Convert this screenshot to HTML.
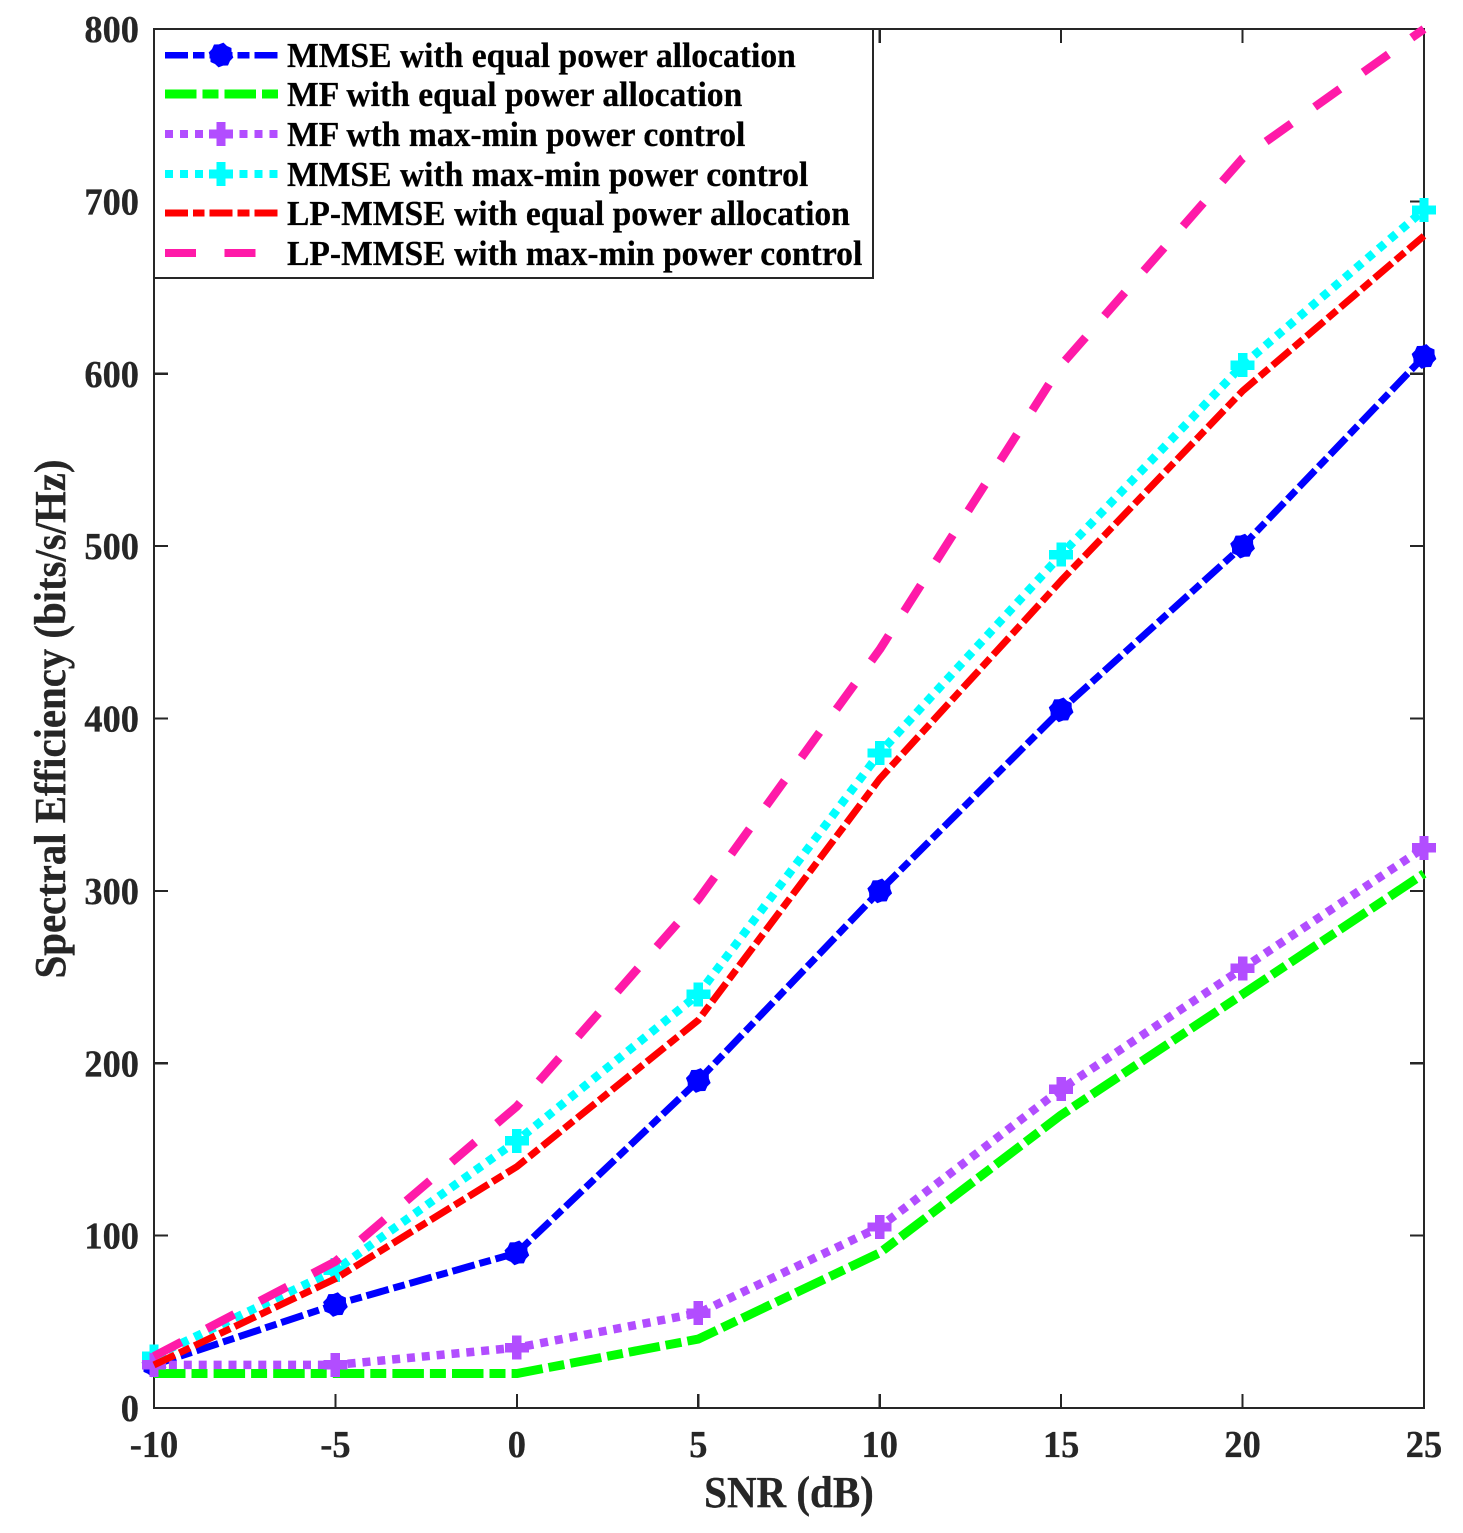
<!DOCTYPE html>
<html lang="en">
<head>
<meta charset="utf-8">
<title>Spectral Efficiency vs SNR</title>
<style>
html,body{margin:0;padding:0;background:#fff;}
svg{display:block;}
text{font-family:"Liberation Serif",serif;font-weight:bold;}
</style>
</head>
<body>
<svg id="chart" xmlns="http://www.w3.org/2000/svg" width="1463" height="1533" viewBox="0 0 1463 1533">
  <rect x="0" y="0" width="1463" height="1533" fill="#fff"/>
  <rect x="154" y="29" width="1270" height="1379" fill="none" stroke="#262626" stroke-width="2.2" shape-rendering="crispEdges"/>
  <g id="ticks"></g>
  <g id="marks-top"></g>
  <text transform="translate(789,1507) scale(1,1.08)" font-size="41" text-anchor="middle" fill="#262626" stroke="#262626" stroke-width="0.3">SNR (dB)</text>
  <text transform="translate(65,719) rotate(-90) scale(1,1.08)" font-size="40.8" text-anchor="middle" fill="#262626" stroke="#262626" stroke-width="0.3">Spectral Efficiency (bits/s/Hz)</text>
  <g id="legend">
    <rect x="154" y="29" width="719" height="249" fill="#fff" stroke="#262626" stroke-width="2.2" shape-rendering="crispEdges"/>
  </g>
</svg>
<script>
const xCategories = [-10, -5, 0, 5, 10, 15, 20, 25];
const yTickValues = [0, 100, 200, 300, 400, 500, 600, 700, 800];
const mmseEqual = [25, 60, 90, 190, 300, 405, 500, 610];
const mfEqual = [20, 20, 20, 40, 90, 170, 240, 310];
const mfMaxMin = [25, 25, 35, 55, 105, 185, 255, 325];
const mmseMaxMin = [30, 80, 155, 240, 380, 495, 605, 695];
const lpEqual = [25, 75, 140, 225, 365, 480, 590, 680];
const lpMaxMin = [30, 85, 175, 295, 440, 605, 725, 800];
const seriesLabels = ["MMSE with equal power allocation", "MF with equal power allocation", "MF wth max-min power control", "MMSE with max-min power control", "LP-MMSE with equal power allocation", "LP-MMSE with max-min power control"];

const NS = "http://www.w3.org/2000/svg";
const L = 154, R = 1424, T = 29, B = 1408;
function xScale(v){ return L + (v - (-10)) / 35 * (R - L); }
function yScale(v){ return B - v / 800 * (B - T); }
function make(tag, attrs, parent){
  const el = document.createElementNS(NS, tag);
  for (const k in attrs) el.setAttribute(k, attrs[k]);
  parent.appendChild(el);
  return el;
}
const DASH_DOT = "23 5 11.7 5", LONG_SHORT = "31.5 6 16 6.1", DOTS = "8 6.9", LONG_GAP = "31 28.6";
const styles = [
  {values: mmseEqual,  color: "#0000ff", dash: DASH_DOT,   marker: "disc", w: 7,   lw: 6.5},
  {values: mfEqual,    color: "#00ff00", dash: LONG_SHORT, marker: "none", w: 9,   lw: 9},
  {values: mfMaxMin,   color: "#b24dff", dash: DOTS,       marker: "plus", w: 8.5, lw: 8},
  {values: mmseMaxMin, color: "#00ffff", dash: DOTS,       marker: "plus", w: 8.5, lw: 8},
  {values: lpEqual,    color: "#ff0000", dash: DASH_DOT,   marker: "none", w: 7,   lw: 7},
  {values: lpMaxMin,   color: "#ff1aa8", dash: LONG_GAP,   marker: "none", w: 8.5, lw: 8}
];
function drawMarker(kind, cx, cy, color, parent){
  if (kind === "disc") {
    const n = 16, pts = [];
    for (let i = 0; i < n; i++) {
      const r = i % 2 === 0 ? 12.6 : 10.8;
      const ang = (i + 0.5) * 2 * Math.PI / n;
      pts.push((cx + r * Math.cos(ang)) + "," + (cy + r * Math.sin(ang)));
    }
    const m = make("polygon", {points: pts.join(" "), fill: color}, parent);
    
    
  } else if (kind === "plus") {
    const a = 12, b = 4.7;
    const pts = [[-b,-a],[b,-a],[b,-b],[a,-b],[a,b],[b,b],[b,a],[-b,a],[-b,b],[-a,b],[-a,-b],[-b,-b]];
    const m = make("polygon", {points: pts.map(p => (cx+p[0]) + "," + (cy+p[1])).join(" "), fill: color, "shape-rendering": "crispEdges"}, parent);
    
    
  }
}

// ticks and tick labels
const tickG = document.getElementById("ticks");
xCategories.forEach(function(v){
  const x = xScale(v);
  const t1 = make("line", {x1: x, x2: x, y1: B, y2: B - 14, stroke: "#262626", "stroke-width": 2.2, "shape-rendering": "crispEdges"}, tickG);
  
  
  const t2 = make("line", {x1: x, x2: x, y1: T, y2: T + 14, stroke: "#262626", "stroke-width": 2.2, "shape-rendering": "crispEdges"}, tickG);
  
  
  const lab = make("text", {transform: "translate(" + x + ",1457) scale(1,1.06)", "font-size": 36.4, "text-anchor": "middle", fill: "#262626", stroke: "#262626", "stroke-width": 0.3}, tickG);
  
  
  lab.textContent = String(v);
});
yTickValues.forEach(function(v){
  const y = yScale(v);
  const t1 = make("line", {x1: L, x2: L + 14, y1: y, y2: y, stroke: "#262626", "stroke-width": 2.2, "shape-rendering": "crispEdges"}, tickG);
  
  
  const t2 = make("line", {x1: R, x2: R - 14, y1: y, y2: y, stroke: "#262626", "stroke-width": 2.2, "shape-rendering": "crispEdges"}, tickG);
  
  
  const lab = make("text", {transform: "translate(139," + (y + 13) + ") scale(1,1.06)", "font-size": 36.4, "text-anchor": "end", fill: "#262626", stroke: "#262626", "stroke-width": 0.3}, tickG);
  
  
  lab.textContent = String(v);
});

// series lines (cyan beneath purple, as in the reference)
const marks = document.getElementById("marks-top");
[0, 1, 3, 2, 4, 5].forEach(function(i){
  const s = styles[i];
  const g = make("g", {}, marks);
  
  
  const pts = s.values.map((v, k) => xScale(xCategories[k]) + "," + yScale(v)).join(" ");
  const line = make("polyline", {points: pts, fill: "none", stroke: s.color, "stroke-width": s.w, "stroke-dasharray": s.dash, "stroke-linejoin": "round"}, g);
  
  
  s.values.forEach(function(v, k){
    drawMarker(s.marker, xScale(xCategories[k]), yScale(v), s.color, g);
  });
});

// legend entries
const legendG = document.getElementById("legend");
const legendY = [55, 94, 134, 174, 213, 253];
seriesLabels.forEach(function(label, i){
  const s = styles[i];
  const g = make("g", {}, legendG);
  
  
  const y = legendY[i];
  const sw = make("line", {x1: 165, x2: 278, y1: y, y2: y, stroke: s.color, "stroke-width": s.lw, "stroke-dasharray": s.dash, "shape-rendering": "crispEdges"}, g);
  
  
  drawMarker(s.marker, 221, y, s.color, g);
  const t = make("text", {transform: "translate(287," + (y + 12) + ") scale(1,1.04)", "font-size": 33.6, fill: "#000", stroke: "#000", "stroke-width": 0.25}, g);
  
  
  t.textContent = label;
});
</script>
</body>
</html>
